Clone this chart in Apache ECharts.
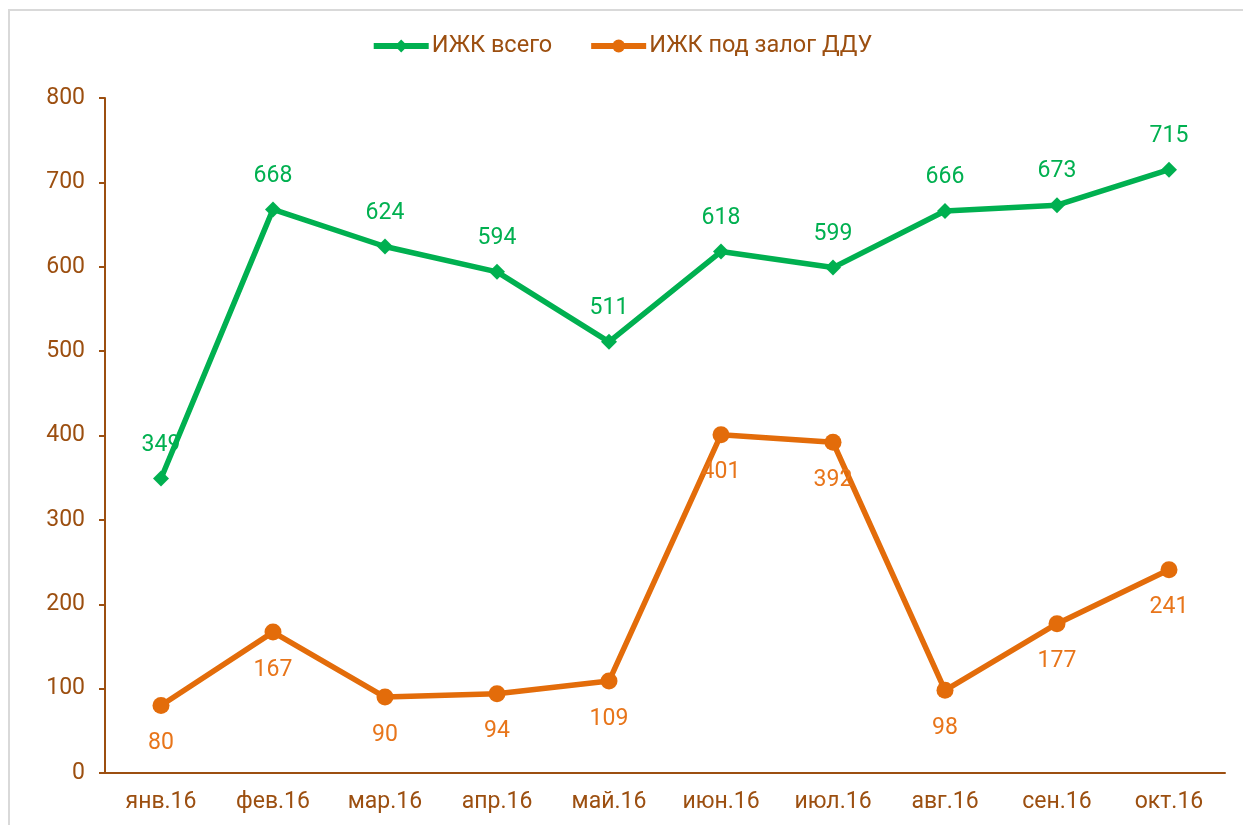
<!DOCTYPE html>
<html><head><meta charset="utf-8">
<script src="https://cdn.jsdelivr.net/npm/echarts@6/dist/echarts.min.js"></script>
<style>html,body{margin:0;padding:0;background:#fff}#c{width:1243px;height:825px}</style>
</head><body><div id="c"></div>
<script>
var categories = ['янв.16','фев.16','мар.16','апр.16','май.16','июн.16','июл.16','авг.16','сен.16','окт.16'];
var totalValues = [349, 668, 624, 594, 511, 618, 599, 666, 673, 715];
var dduValues = [80, 167, 90, 94, 109, 401, 392, 98, 177, 241];
var yTicks = {min: 0, max: 800, interval: 100};
var seriesNames = ['ИЖК всего', 'ИЖК под залог ДДУ'];

var brown = '#9C4F10';
var green = '#00B050';
var orange = '#E36C0A';
var chart = echarts.init(document.getElementById('c'));
chart.setOption({
  animation: false,
  textStyle: {fontFamily: 'Roboto'},
  graphic: [{type: 'rect', shape: {x: 9, y: 10, width: 1250, height: 830}, style: {fill: 'none', stroke: '#d9d9d9', lineWidth: 2}}],
  legend: {
    top: 29, left: 'center', itemWidth: 55, itemHeight: 16, itemGap: 36,
    lineStyle: {width: 6},
    textStyle: {color: brown, fontSize: 23.5, fontFamily: 'Roboto', padding: [0, 0, 0, -2]},
    data: seriesNames
  },
  grid: {left: 105, right: 18, top: 98, bottom: 52, containLabel: false},
  xAxis: {
    type: 'category', data: categories, boundaryGap: true,
    axisLine: {lineStyle: {color: brown, width: 2}},
    axisTick: {show: false},
    axisLabel: {color: brown, fontSize: 23, margin: 18}
  },
  yAxis: {
    type: 'value', min: yTicks.min, max: yTicks.max, interval: yTicks.interval,
    axisLine: {show: true, lineStyle: {color: brown, width: 2}},
    axisTick: {show: true, length: 6, inside: false, lineStyle: {color: brown, width: 2}},
    splitLine: {show: false},
    axisLabel: {color: brown, fontSize: 23, margin: 20}
  },
  series: [
    {
      name: seriesNames[0], type: 'line', data: totalValues,
      symbol: 'diamond', symbolSize: 16,
      lineStyle: {color: green, width: 5.5}, itemStyle: {color: green},
      label: {show: true, position: 'top', distance: 14, color: green, fontSize: 23}
    },
    {
      name: seriesNames[1], type: 'line', data: dduValues,
      symbol: 'circle', symbolSize: 17,
      lineStyle: {color: orange, width: 5.5}, itemStyle: {color: orange},
      label: {show: true, position: 'bottom', distance: 18, color: '#E8751A', fontSize: 23}
    }
  ]
});
</script></body></html>
